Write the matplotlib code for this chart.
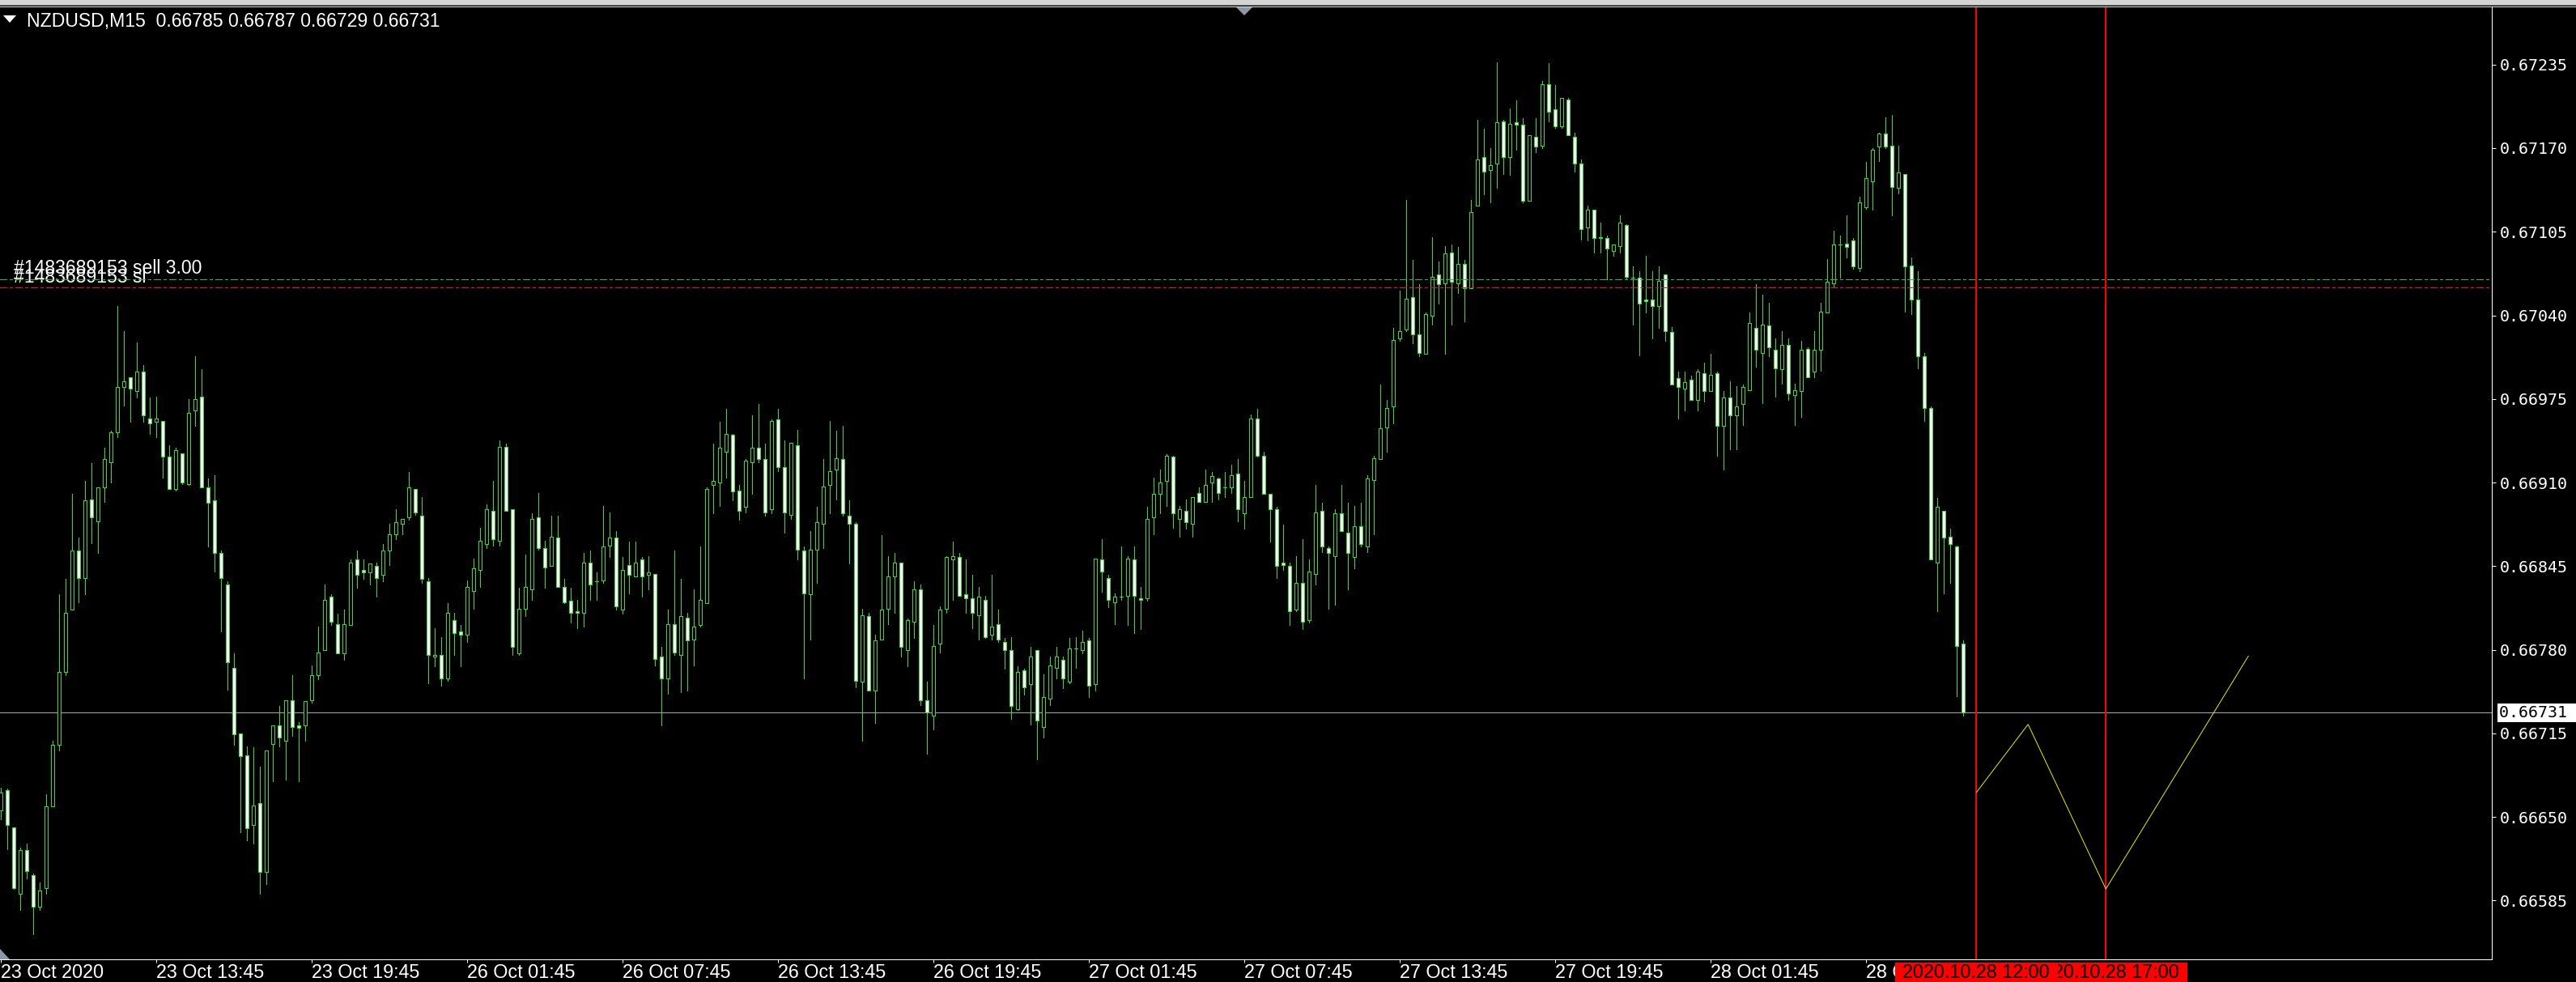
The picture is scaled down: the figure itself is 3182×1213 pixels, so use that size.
import numpy as np
import matplotlib.pyplot as plt
from matplotlib import transforms
from matplotlib.patches import Rectangle, Polygon

W, H, DPI = 3182, 1213, 100
PX = 72 / DPI  # one pixel in points

# NZDUSD M15, prices in points (x 1e-5), bar 0 = 23 Oct 07:45
opens = [
    66655, 66671, 66642, 66590, 66624, 66605, 66580, 66595, 66658, 66706,
    66763, 66811, 66857, 66836, 66897, 66880, 66906, 66926, 66949, 66984,
    66992, 66981, 66996, 66960, 66957, 66958, 66930, 66905, 66933, 66909,
    66966, 66977, 66906, 66896, 66855, 66831, 66766, 66715, 66698, 66644,
    66661, 66607, 66707, 66721, 66709, 66741, 66721, 66721, 66741, 66760,
    66780, 66821, 66800, 66777, 66799, 66850, 66842, 66840, 66845, 66838,
    66857,
    66870, 66878, 66883, 66905, 66884, 66833, 66775, 66776, 66758, 66803,
    66794, 66792, 66826, 66842, 66862, 66888, 66865, 66938, 66889, 66777,
    66812, 66827, 66883, 66859, 66845, 66867, 66829, 66818, 66810, 66809,
    66848, 66833, 66834, 66861, 66867, 66811, 66846, 66837, 66850, 66838,
    66839, 66775, 66758, 66800, 66776, 66805, 66788, 66799, 66816, 66908,
    66910, 66934, 66947, 66904, 66891, 66926, 66937, 66928, 66889, 66959, 66922,
    66885, 66939, 66857, 66823, 66858, 66878, 66908, 66920, 66928, 66884,
    66878, 66755, 66806, 66748, 66788, 66812, 66837, 66848, 66780, 66802,
    66827, 66741, 66729, 66785, 66812, 66850, 66852, 66823, 66820, 66807,
    66819, 66792, 66800, 66786, 66780, 66734, 66764, 66753, 66780, 66720,
    66742, 66766, 66772, 66755, 66781, 66780, 66787, 66753, 66850, 66836,
    66817, 66821, 66822, 66850, 66820, 66820, 66883, 66901, 66911, 66930, 66882,
    66888, 66878, 66902, 66895, 66910, 66913, 66906, 66906, 66917, 66886,
    66899, 66960, 66931, 66901, 66889, 66848, 66845, 66811, 66832, 66803,
    66839, 66888, 66859, 66853, 66886, 66871, 66852, 66876, 66860, 66912,
    66928, 66953, 66969, 67022, 67029, 67054, 67025, 67010, 67040, 67072,
    67065, 67089, 67065, 67080, 67061, 67125, 67163, 67153, 67158, 67191,
    67163, 67190, 67188, 67129, 67179, 67172, 67220, 67200, 67187, 67208,
    67179, 67158, 67108, 67122, 67101, 67100, 67090, 67094, 67110, 67069,
    67069, 67052, 67052, 67047, 67072, 67027, 66991, 66983, 66990, 66974,
    66995, 66981, 66995, 66954, 66976, 66962, 66971, 66982, 67030, 67011,
    67032, 67013, 66998, 67017, 66978, 66981, 67014, 66996, 67013, 67042,
    67065, 67095, 67096, 67098, 67077, 67124, 67144, 67171, 67181, 67172,
    67139, 67150, 67079, 67052, 67008, 66968, 66848, 66888, 66868, 66860, 66785,
]
highs = [
    66673, 66672, 66642, 66626, 66629, 66606, 66599, 66668, 66709, 66823,
    66835, 66901, 66867, 66911, 66925, 66906, 66937, 66950, 67047, 67028,
    66992, 67019, 67001, 66976, 66977, 66958, 66939, 66937, 66933, 66975,
    67008, 66998, 66913, 66916, 66857, 66833, 66777, 66715, 66705, 66704,
    66689, 66702, 66721, 66736, 66741, 66760, 66724, 66740, 66768, 66798,
    66831, 66823, 66808, 66811, 66850, 66857, 66850, 66847, 66848, 66862,
    66878,
    66889, 66882, 66918, 66905, 66899, 66836, 66797, 66790, 66816, 66809,
    66799, 66834, 66851, 66875, 66893, 66911, 66943, 66940, 66889, 66828,
    66854, 66886, 66902, 66865, 66884, 66884, 66835, 66828, 66819, 66855,
    66857, 66840, 66892, 66887, 66872, 66852, 66864, 66864, 66852, 66853,
    66839, 66782, 66811, 66857, 66835, 66809, 66827, 66860, 66906, 66940,
    66957, 66967, 66948, 66908, 66928, 66962, 66971, 66940, 66959, 66967, 66943,
    66941, 66951, 66860, 66872, 66891, 66928, 66958, 66950, 66954, 66896,
    66879, 66812, 66809, 66792, 66869, 66853, 66855, 66848, 66804, 66833,
    66831, 66755, 66799, 66814, 66853, 66864, 66855, 66850, 66838, 66829,
    66822, 66838, 66811, 66789, 66790, 66767, 66765, 66782, 66780, 66761,
    66775, 66782, 66775, 66789, 66790, 66795, 66789, 66851, 66866, 66838,
    66824, 66860, 66853, 66860, 66829, 66891, 66914, 66920, 66932, 66931, 66892,
    66897, 66899, 66906, 66920, 66918, 66914, 66918, 66924, 66928, 66911,
    66963, 66967, 66934, 66901, 66891, 66877, 66848, 66853, 66866, 66850,
    66908, 66894, 66860, 66889, 66908, 66894, 66892, 66894, 66916, 66931,
    66986, 66974, 67030, 67059, 67130, 67083, 67064, 67042, 67101, 67082,
    67094, 67095, 67093, 67083, 67130, 67192, 67185, 67170, 67237, 67192,
    67201, 67207, 67193, 67180, 67193, 67222, 67236, 67219, 67209, 67209,
    67182, 67161, 67125, 67122, 67112, 67102, 67095, 67118, 67111, 67078,
    67074, 67086, 67074, 67078, 67072, 67031, 66996, 66996, 66993, 66998,
    67003, 67010, 66996, 66981, 66989, 66985, 66986, 67042, 67064, 67056,
    67050, 67022, 67028, 67022, 66987, 67020, 67015, 67028, 67050, 67084,
    67106, 67102, 67118, 67100, 67132, 67159, 67170, 67182, 67194, 67196,
    67172, 67150, 67085, 67074, 67011, 66969, 66898, 66888, 66874, 66861, 66787,
]
lows = [
    66648, 66625, 66594, 66578, 66602, 66559, 66578, 66590, 66658, 66702,
    66760, 66811, 66817, 66823, 66863, 66855, 66895, 66910, 66945, 66970,
    66957, 66976, 66957, 66948, 66945, 66914, 66905, 66904, 66909, 66908,
    66954, 66906, 66860, 66841, 66794, 66749, 66706, 66638, 66632, 66629,
    66590, 66598, 66678, 66705, 66679, 66713, 66678, 66709, 66739, 66757,
    66780, 66799, 66777, 66772, 66799, 66828, 66835, 66831, 66821, 66833,
    66846,
    66866, 66870, 66881, 66885, 66832, 66754, 66767, 66752, 66756, 66776,
    66767, 66786, 66812, 66829, 66859, 66861, 66861, 66888, 66776, 66776,
    66806, 66819, 66858, 66828, 66845, 66829, 66816, 66801, 66797, 66798,
    66819, 66819, 66832, 66852, 66811, 66808, 66824, 66837, 66821, 66827,
    66768, 66721, 66746, 66776, 66747, 66748, 66768, 66798, 66816, 66886,
    66892, 66914, 66896, 66881, 66887, 66901, 66926, 66884, 66886, 66919, 66871,
    66882, 66850, 66758, 66788, 66832, 66859, 66886, 66897, 66884, 66847,
    66751, 66709, 66748, 66723, 66788, 66800, 66809, 66775, 66767, 66789,
    66737, 66699, 66718, 66778, 66809, 66819, 66822, 66809, 66797, 66788,
    66789, 66788, 66786, 66765, 66726, 66733, 66745, 66722, 66695, 66712,
    66737, 66758, 66750, 66754, 66766, 66777, 66743, 66748, 66825, 66813,
    66800, 66819, 66799, 66793, 66796, 66818, 66870, 66886, 66892, 66875, 66868,
    66874, 66868, 66895, 66895, 66895, 66897, 66899, 66902, 66880, 66874,
    66899, 66930, 66901, 66864, 66836, 66842, 66799, 66810, 66796, 66801,
    66831, 66856, 66812, 66815, 66872, 66827, 66843, 66860, 66856, 66870,
    66928, 66934, 66956, 67020, 67028, 67018, 67008, 67010, 67033, 67049,
    67010, 67033, 67057, 67035, 67061, 67125, 67134, 67128, 67139, 67150,
    67149, 67169, 67128, 67129, 67167, 67170, 67191, 67186, 67186, 67180,
    67152, 67099, 67098, 67089, 67089, 67068, 67086, 67089, 67068, 67033,
    67009, 67042, 67022, 67030, 67020, 66986, 66960, 66966, 66974, 66966,
    66973, 66981, 66931, 66920, 66936, 66936, 66955, 66982, 67000, 66972,
    67008, 66977, 66987, 66974, 66955, 66961, 66992, 66992, 66997, 67042,
    67062, 67069, 67085, 67076, 67074, 67123, 67122, 67160, 67170, 67118,
    67135, 67043, 67041, 66999, 66958, 66850, 66810, 66824, 66832, 66744, 66729,
]
closes = [
    66669, 66644, 66595, 66624, 66608, 66580, 66593, 66658, 66706, 66763,
    66809, 66857, 66836, 66896, 66883, 66906, 66928, 66949, 66984, 66989,
    66983, 66996, 66962, 66956, 66960, 66930, 66905, 66935, 66910, 66964,
    66975, 66906, 66894, 66855, 66836, 66770, 66714, 66697, 66641, 66659,
    66607, 66702, 66721, 66712, 66741, 66720, 66719, 66740, 66760, 66778,
    66819, 66802, 66777, 66800, 66848, 66838, 66840, 66847, 66836, 66857,
    66870,
    66879, 66882, 66906, 66887, 66835, 66776, 66776, 66758, 66809, 66793,
    66792, 66829, 66843, 66865, 66889, 66866, 66938, 66888, 66782, 66812,
    66829, 66882, 66859, 66844, 66868, 66829, 66817, 66809, 66809, 66848,
    66831, 66833, 66860, 66867, 66814, 66842, 66838, 66848, 66837, 66840,
    66773, 66758, 66800, 66778, 66806, 66787, 66798, 66819, 66905, 66911,
    66937, 66948, 66903, 66888, 66927, 66937, 66928, 66887, 66958, 66922, 66887,
    66941, 66858, 66824, 66858, 66879, 66907, 66919, 66929, 66886, 66878,
    66756, 66807, 66748, 66787, 66811, 66837, 66848, 66782, 66803, 66827,
    66741, 66731, 66783, 66811, 66852, 66853, 66822, 66820, 66809, 66821,
    66790, 66798, 66788, 66780, 66736, 66763, 66751, 66775, 66725, 66743,
    66768, 66775, 66758, 66781, 66781, 66786, 66752, 66851, 66841, 66819,
    66821, 66821, 66851, 66822, 66819, 66882, 66901, 66910, 66931, 66886, 66889,
    66879, 66899, 66895, 66908, 66915, 66902, 66906, 66916, 66889, 66899,
    66960, 66931, 66901, 66889, 66845, 66846, 66810, 66832, 66802, 66841,
    66887, 66860, 66855, 66886, 66872, 66855, 66876, 66862, 66913, 66929,
    66952, 66968, 67021, 67028, 67053, 67025, 67011, 67041, 67070, 67064,
    67088, 67066, 67080, 67061, 67120, 67161, 67152, 67157, 67190, 67163,
    67189, 67188, 67129, 67180, 67171, 67220, 67198, 67187, 67209, 67180,
    67158, 67107, 67122, 67100, 67100, 67092, 67095, 67112, 67070, 67069,
    67049, 67051, 67047, 67067, 67028, 66986, 66984, 66988, 66974, 66996,
    66981, 66994, 66954, 66976, 66962, 66969, 66984, 67034, 67013, 67033,
    67015, 66999, 67017, 66979, 66982, 67013, 66992, 67013, 67043, 67066,
    67095, 67095, 67093, 67078, 67128, 67147, 67169, 67181, 67171, 67140,
    67151, 67078, 67052, 67008, 66968, 66850, 66891, 66867, 66862, 66783, 66731,
]

tick_bars = [0, 24, 48, 72, 96, 120, 144, 168, 192, 216, 240, 264, 288]
tick_labels = ['23 Oct 2020', '23 Oct 13:45', '23 Oct 19:45', '26 Oct 01:45',
               '26 Oct 07:45', '26 Oct 13:45', '26 Oct 19:45', '27 Oct 01:45',
               '27 Oct 07:45', '27 Oct 13:45', '27 Oct 19:45', '28 Oct 01:45',
               '28 Oct 07:45']
price_ticks = [0.66585, 0.66650, 0.66715, 0.66780, 0.66845, 0.66910,
               0.66975, 0.67040, 0.67105, 0.67170, 0.67235]

order_open = 0.67068
order_sl = 0.67062
vline_bars = [305, 325]
vline_labels = ['2020.10.28 12:00', '2020.10.28 17:00']
path_bars = [305, 313, 325, 347]
path_prices = [0.66669, 0.66722, 0.66594, 0.66775]

o = np.array(opens) / 1e5
hi = np.array(highs) / 1e5
lo = np.array(lows) / 1e5
c = np.array(closes) / 1e5
x = np.arange(len(c))

GREEN = '#22e81c'
SANS = ['Liberation Sans', 'DejaVu Sans']
MONO = ['DejaVu Sans Mono']

fig = plt.figure(figsize=(W / DPI, H / DPI), dpi=DPI, facecolor='black')
ax = fig.add_axes([0, (H - 1185) / H, 3078 / W, (1185 - 9) / H])
ax.set_facecolor('black')
ax.set_xlim(-0.16, 384.6)
ax.set_ylim(0.665393, 0.672795)

# candles, drawn crisp like the terminal does
ax.vlines(x, lo, hi, colors=GREEN, linewidth=PX, antialiased=False, zorder=2)
up = c >= o
ax.bar(x[up], (c - o)[up], bottom=o[up], width=0.55, color='black',
       edgecolor=GREEN, linewidth=PX, antialiased=False, zorder=3)
ax.bar(x[~up], (o - c)[~up], bottom=c[~up], width=0.55, color='white',
       edgecolor=GREEN, linewidth=PX, antialiased=False, zorder=3)

# order lines
ax.axhline(order_open, color='#1fc81f', lw=PX, dashes=(9, 3, 3, 3),
           antialiased=False, zorder=4)
ax.axhline(order_sl, color='#ff1010', lw=PX, dashes=(9, 3, 3, 3),
           antialiased=False, zorder=4)
ax.axhline(c[-1], color='#a8a8a8', lw=PX, antialiased=False, zorder=1)

ltrans = transforms.blended_transform_factory(ax.transAxes, ax.transData)
ax.text(17 / 3078, order_open, '#1483689153 sell 3.00', color='white',
        fontsize=16.6, family=SANS, va='bottom',
        transform=transforms.offset_copy(ltrans, fig=fig, x=0, y=2, units='dots'))
ax.text(17 / 3078, order_sl, '#1483689153 sl', color='white',
        fontsize=16.6, family=SANS, va='bottom',
        transform=transforms.offset_copy(ltrans, fig=fig, x=0, y=1, units='dots'))

for b in vline_bars:
    ax.axvline(b, color='red', lw=2 * PX, antialiased=False, zorder=5)
ax.plot(path_bars, path_prices, color='#e8e800', lw=PX, zorder=5)

# axes frame and ticks
for s in ['top', 'left']:
    ax.spines[s].set_visible(False)
for s in ['right', 'bottom']:
    ax.spines[s].set_color('white')
    ax.spines[s].set_linewidth(PX)

ax.yaxis.tick_right()
ax.set_yticks(price_ticks)
ax.set_yticklabels([f'{p:.5f}' for p in price_ticks])
ax.tick_params(axis='y', direction='out', length=5 * PX, width=PX,
               colors='white', labelsize=14.4, pad=5 * PX)
for lab in ax.get_yticklabels():
    lab.set_family(MONO)

ax.set_xticks(tick_bars)
ax.set_xticklabels(tick_labels, ha='left')
ax.tick_params(axis='x', direction='out', length=4 * PX, width=PX,
               colors='white', labelsize=16.8, pad=1)
for lab in ax.get_xticklabels():
    lab.set_family(SANS)

# current price box
ax.text(1.0, c[-1], f'{c[-1]:.5f} ', color='black', fontsize=14.4, family=MONO,
        va='center', ha='left', clip_on=False, zorder=6,
        bbox=dict(boxstyle='square,pad=0.12', fc='white', ec='none'),
        transform=transforms.offset_copy(ltrans, fig=fig, x=9, y=0, units='dots'))

# time labels of the vertical lines
btrans = transforms.blended_transform_factory(ax.transData, ax.transAxes)
half_w = 100.5 / 8
box_top = -4 / 1176
for i in [1, 0]:
    b = vline_bars[i]
    ax.add_patch(Rectangle((b - half_w, -0.03), 2 * half_w, 0.03 + box_top,
                           transform=btrans, fc='red', ec='none',
                           clip_on=False, zorder=10 + 2 * (1 - i)))
    ax.text(b, 0, vline_labels[i], color='black', fontsize=16.8, family=SANS,
            ha='center', va='top', clip_on=False, zorder=11 + 2 * (1 - i),
            transform=transforms.offset_copy(btrans, fig=fig, x=0, y=-5.5, units='dots'))

# window chrome
ui = fig.add_axes([0, 0, 1, 1], zorder=20)
ui.set_xlim(0, W)
ui.set_ylim(H, 0)
ui.axis('off')
ui.patch.set_alpha(0)
ui.add_patch(Rectangle((0, 0), W, 5.5, fc='#d4d4d4', ec='none'))
ui.plot([0, W], [6, 6], color='#707070', lw=PX)
ui.plot([0, W], [8, 8], color='#e8e8e8', lw=PX)
ui.add_patch(Polygon([(4, 19), (20, 19), (12, 28)], closed=True, fc='white', ec='none'))
ui.add_patch(Polygon([(1527, 9), (1547, 9), (1537, 19)], closed=True, fc='#8a98a8', ec='none'))
ui.add_patch(Polygon([(0, 1172), (12, 1185), (0, 1185)], closed=True, fc='#8a98a8', ec='none'))

fig.text(33 / W, 1 - 26 / H,
         f'NZDUSD,M15  {o[-1]:.5f} {hi[-1]:.5f} {lo[-1]:.5f} {c[-1]:.5f}',
         color='white', fontsize=16.6, family=SANS, va='center')

fig.savefig('out.png', dpi=DPI, facecolor='black')
